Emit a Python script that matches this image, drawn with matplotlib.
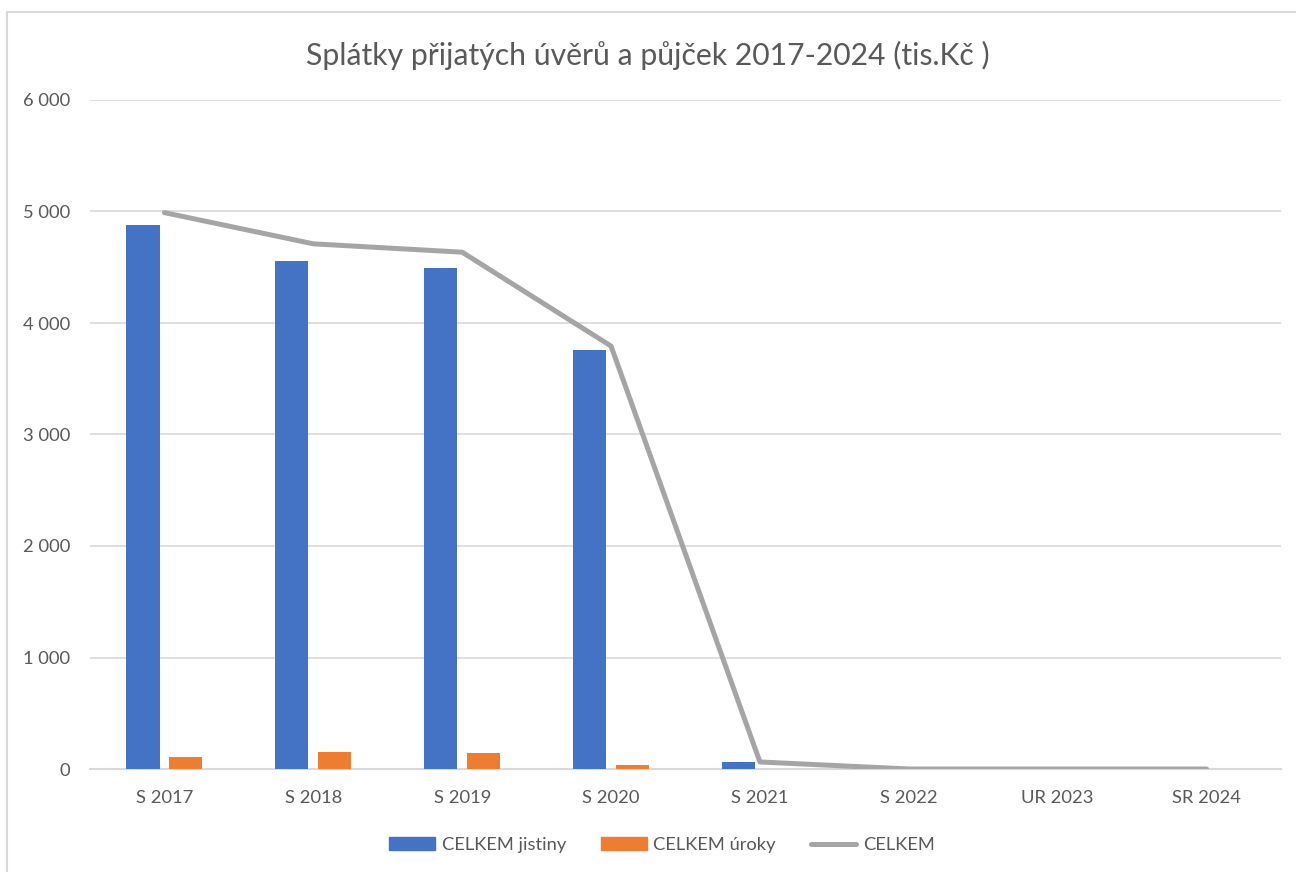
import matplotlib
matplotlib.use("Agg")
import matplotlib.pyplot as plt
import numpy as np
from matplotlib.ticker import FuncFormatter
from matplotlib.lines import Line2D
from matplotlib.patches import Patch

categories = ["S 2017", "S 2018", "S 2019", "S 2020", "S 2021", "S 2022", "UR 2023", "SR 2024"]
jistiny = [4880, 4555, 4490, 3755, 63, 0, 0, 0]
uroky = [110, 155, 145, 38, 0, 0, 0, 0]
celkem = [4990, 4710, 4635, 3793, 63, 0, 0, 0]

plt.rcParams['font.family'] = ['Lato', 'DejaVu Sans']
TXT = '#595959'

fig = plt.figure(figsize=(12.96, 8.72), dpi=100)
ax = fig.add_axes([90/1296, 103/872, (1281-90)/1296, (769-100)/872])

x = np.arange(len(categories))
bw = 0.222
off = 0.144
ax.bar(x - off, jistiny, bw, color='#4472C4', zorder=3, label='CELKEM jistiny')
ax.bar(x + off, uroky, bw, color='#ED7D31', zorder=3, label='CELKEM úroky')
ax.plot(x, celkem, color='#A5A5A5', lw=3.6, zorder=4, solid_capstyle='round', solid_joinstyle='round', label='CELKEM')

ax.set_xlim(-0.5, len(categories) - 0.5)
ax.set_ylim(0, 6000)
ax.set_yticks(range(0, 6001, 1000))
ax.yaxis.set_major_formatter(FuncFormatter(lambda v, p: f"{int(v):,}".replace(",", " ")))
ax.set_xticks(x)
ax.set_xticklabels(categories)
ax.grid(axis='y', color='#D9D9D9', lw=1.2, zorder=0)
for s in ['top', 'right', 'left']:
    ax.spines[s].set_visible(False)
ax.spines['bottom'].set_color('#D9D9D9')
ax.spines['bottom'].set_linewidth(1.5)
ax.spines['bottom'].set_zorder(2)
ax.tick_params(axis='both', length=0, colors=TXT, labelsize=13.2)
ax.tick_params(axis='y', pad=14)
ax.tick_params(axis='x', pad=15)

fig.text(0.5, 1 - 55/872, "Splátky přijatých úvěrů a půjček 2017-2024 (tis.Kč )", ha='center', va='center',
         fontsize=21.7, color=TXT)

handles = [Patch(color='#4472C4'), Patch(color='#ED7D31'),
           Line2D([0], [0], color='#A5A5A5', lw=3.6, solid_capstyle='round')]
fig.legend(handles, ['CELKEM jistiny', 'CELKEM úroky', 'CELKEM'], loc='center',
           bbox_to_anchor=(0.5 + 14/1296, 1 - 845/872), ncol=3, frameon=False, fontsize=13.2,
           labelcolor=TXT, handlelength=2.5, handleheight=0.7, handletextpad=0.35, columnspacing=1.9)

# chart border (left and top)
fig.add_artist(Line2D([7/1296, 7/1296], [0, 1 - 12/872], transform=fig.transFigure, color='#D9D9D9', lw=1.5))
fig.add_artist(Line2D([7/1296, 1], [1 - 12/872, 1 - 12/872], transform=fig.transFigure, color='#D9D9D9', lw=1.5))

fig.savefig('out.png', dpi=100)
